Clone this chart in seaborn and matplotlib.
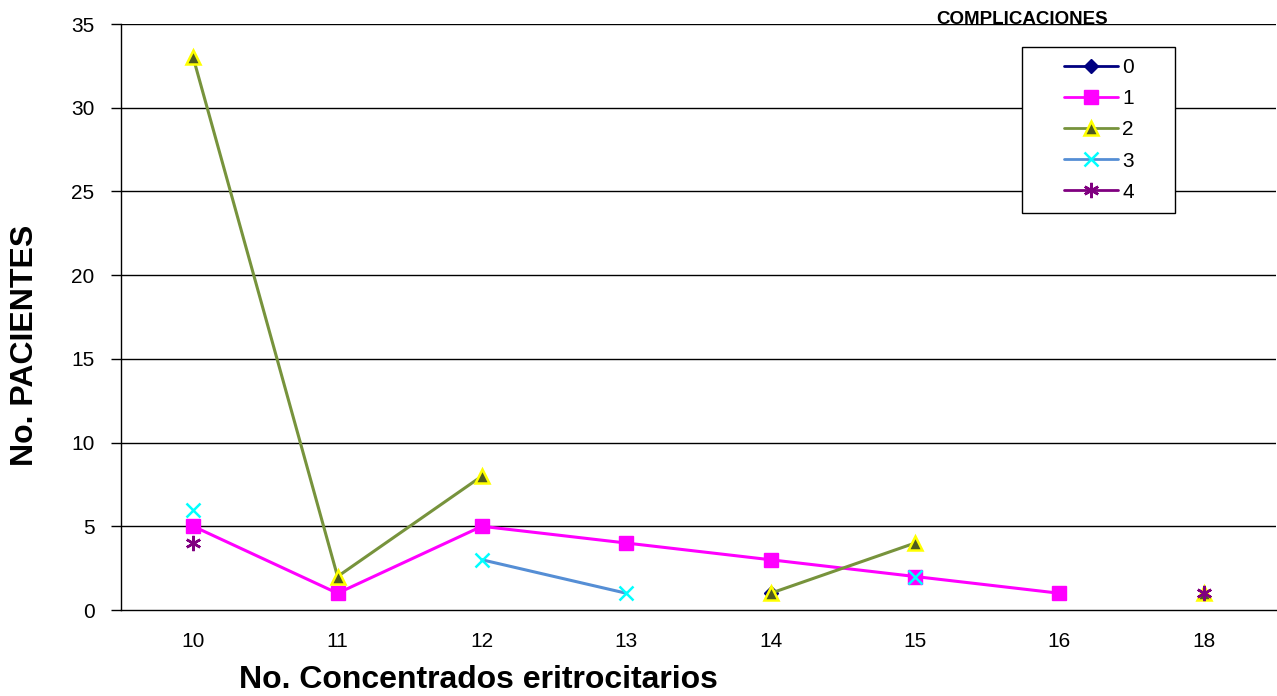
import numpy as np
import pandas as pd
import matplotlib
matplotlib.use("Agg")
import matplotlib.pyplot as plt
from matplotlib.lines import Line2D
from matplotlib.patches import Rectangle
import seaborn as sns

CATEGORIES = ["10", "11", "12", "13", "14", "15", "16", "18"]
SERIES = ["0", "1", "2", "3", "4"]
nan = np.nan
VAL_0 = [nan, nan, nan, nan, 1, nan, nan, nan]
VAL_1 = [5, 1, 5, 4, 3, 2, 1, nan]
VAL_2 = [33, 2, 8, nan, 1, 4, nan, 1]
VAL_3 = [6, nan, 3, 1, nan, 2, nan, nan]
VAL_4 = [4, nan, nan, nan, nan, nan, nan, 1]
Y_TICKS = [0, 5, 10, 15, 20, 25, 30, 35]

STYLES = {
    "0": dict(color="#000080", marker="D", mfc="#000080", mec="#000080", ms=7, mew=1),
    "1": dict(color="#FF00FF", marker="s", mfc="#FF00FF", mec="#FF00FF", ms=10, mew=1),
    "2": dict(color="#77933C", marker="^", mfc="#4F5B1F", mec="#FFFF00", ms=10, mew=1.8),
    "3": dict(color="#558ED5", marker="x", mfc="#00FFFF", mec="#00FFFF", ms=10, mew=1.8),
    "4": dict(color="#800080", marker=(6, 2, 0), mfc="#800080", mec="#800080", ms=11, mew=1.8),
}

W, H = 1277, 696


def build_frame():
    # one "seg" per run of consecutive values so gaps stay open
    rows = []
    for name, vals in zip(SERIES, [VAL_0, VAL_1, VAL_2, VAL_3, VAL_4]):
        seg = 0
        prev_nan = True
        for i, v in enumerate(vals):
            if np.isnan(v):
                prev_nan = True
                continue
            if prev_nan:
                seg += 1
            prev_nan = False
            rows.append({"serie": name, "x": i, "y": v, "seg": seg})
    return pd.DataFrame(rows)


def main():
    sns.set_theme(style="white")
    plt.rcParams["font.family"] = ["Liberation Sans", "DejaVu Sans"]
    plt.rcParams.update({"text.color": "black", "axes.labelcolor": "black",
                         "xtick.color": "black", "ytick.color": "black"})

    df = build_frame()
    fig = plt.figure(figsize=(W / 100, H / 100), dpi=100)
    ax = fig.add_axes([121 / W, 1 - 610 / H, 1155 / W, 586 / H])

    for name in SERIES:
        st = STYLES[name]
        sub = df[df["serie"] == name]
        sns.lineplot(data=sub, x="x", y="y", units="seg", estimator=None, ax=ax,
                     color=st["color"], linewidth=2.2, marker=st["marker"],
                     markersize=st["ms"], markerfacecolor=st["mfc"],
                     markeredgecolor=st["mec"], markeredgewidth=st["mew"],
                     legend=False, zorder=3)

    n = len(CATEGORIES)
    ax.set_xlim(-0.5, n - 0.5)
    ax.set_ylim(0, 35)
    ax.set_yticks(Y_TICKS)
    ax.set_xticks(range(n))
    ax.set_xticklabels(CATEGORIES)
    ax.set_xticks(np.arange(-0.5, n, 1.0), minor=True)
    ax.tick_params(axis="x", which="major", length=0, pad=16, labelsize=15)
    ax.tick_params(axis="x", which="minor", length=9, width=1, color="black", direction="out")
    ax.tick_params(axis="y", length=7, width=1, color="black", direction="out",
                   labelsize=15, pad=12, left=True)
    for y in Y_TICKS[1:]:
        ax.axhline(y, color="black", linewidth=1, zorder=1)
    for s in ["top", "right"]:
        ax.spines[s].set_visible(False)
    for s in ["left", "bottom"]:
        ax.spines[s].set_color("black")
        ax.spines[s].set_linewidth(1)

    # labels are off-centre in the original, place them by axes fraction
    ax.set_xlabel("No. Concentrados eritrocitarios", fontsize=23, fontweight="bold")
    ax.set_ylabel("No. PACIENTES", fontsize=23, fontweight="bold")
    ax.xaxis.set_label_coords((478 - 121) / 1155, -(680 - 610) / 586)
    ax.yaxis.set_label_coords(-(121 - 25) / 1155, (610 - 345) / 586)
    ax.xaxis.label.set_va("center")
    ax.yaxis.label.set_va("center")

    # legend box drawn by hand (Excel pads it wide), legend itself frameless
    fig.patches.append(Rectangle((1022 / W, 1 - 213 / H), 153 / W, 166 / H,
                                 transform=fig.transFigure, facecolor="white",
                                 edgecolor="black", linewidth=1, zorder=5))
    handles = []
    for name in SERIES:
        st = STYLES[name]
        handles.append(Line2D([0], [0], color=st["color"], linewidth=2, marker=st["marker"],
                              markersize=st["ms"], markerfacecolor=st["mfc"],
                              markeredgecolor=st["mec"], markeredgewidth=st["mew"]))
    leg = fig.legend(handles, SERIES, loc="center",
                     bbox_to_anchor=(1099 / W, 1 - 130 / H),
                     fontsize=15, frameon=False, handlelength=2.6,
                     handletextpad=0.2, labelspacing=0.58, borderpad=0)
    leg.set_zorder(6)
    fig.text(1022 / W, 1 - 19 / H, "COMPLICACIONES", fontsize=13.5, fontweight="bold",
             ha="center", va="center")

    fig.savefig("out.png", dpi=100)
    plt.close(fig)


if __name__ == "__main__":
    main()
